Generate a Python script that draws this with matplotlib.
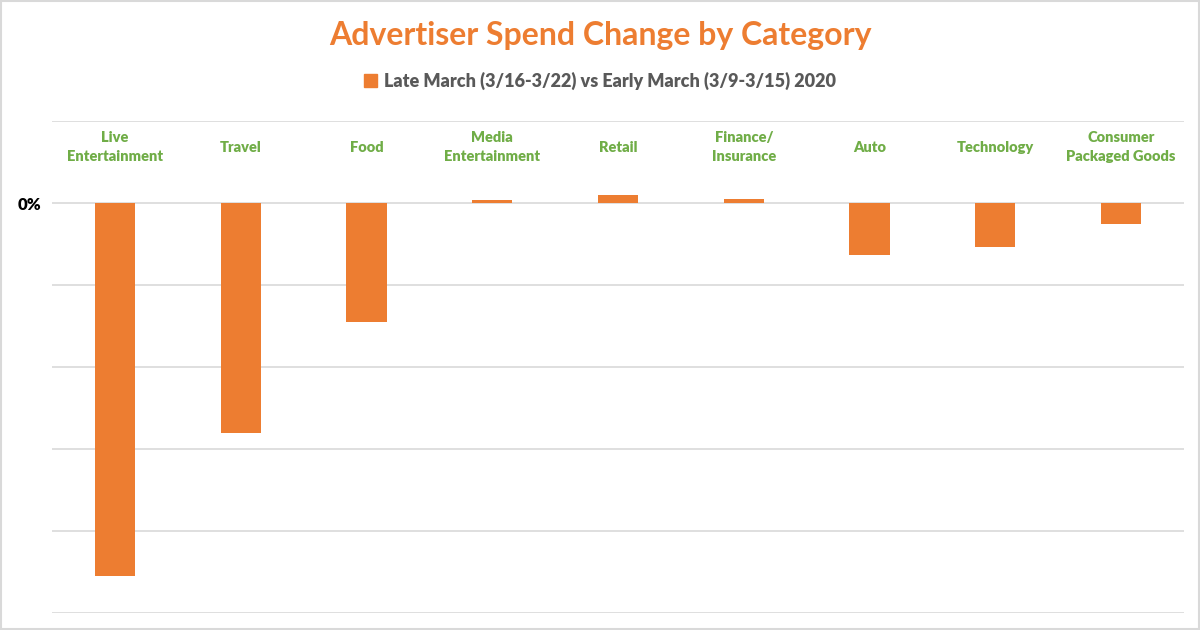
import matplotlib
matplotlib.use("Agg")
import matplotlib.pyplot as plt
from matplotlib.patches import Patch, Rectangle
from matplotlib.transforms import blended_transform_factory

# Data (percent change, gridline step = 10%)
CATEGORIES = ["Live\nEntertainment", "Travel", "Food", "Media\nEntertainment",
              "Retail", "Finance/\nInsurance", "Auto", "Technology",
              "Consumer\nPackaged Goods"]
CHANGE = [-45.5, -28.0, -14.5, 0.4, 1.0, 0.5, -6.4, -5.4, -2.5]
Y_TICKS = [-50, -40, -30, -20, -10, 0, 10]
SERIES_LABEL = "Late March (3/16-3/22) vs Early March (3/9-3/15) 2020"
TITLE = "Advertiser Spend Change by Category"

ORANGE = "#ED7D31"
GREEN = "#70AD47"
GREY_TXT = "#595959"
GRID = "#D9D9D9"
FONT = ["Lato", "DejaVu Sans"]

plt.rcParams["font.family"] = FONT

fig = plt.figure(figsize=(12, 6.3), dpi=100)
ax = fig.add_axes([52 / 1200, 1 - 613 / 630, (1184 - 52) / 1200, (613 - 121) / 630])

x = list(range(len(CATEGORIES)))
ax.bar(x, CHANGE, width=0.32, color=ORANGE, zorder=3)

ax.set_xlim(-0.5, len(CATEGORIES) - 0.5)
ax.set_ylim(min(Y_TICKS), max(Y_TICKS))
ax.set_yticks(Y_TICKS)
ax.set_yticklabels(["0%" if t == 0 else "" for t in Y_TICKS],
                   fontsize=12, fontweight="heavy", color="black")
ax.tick_params(axis="y", length=0, pad=8)
ax.set_xticks([])
ax.grid(axis="y", color=GRID, linewidth=1.2, zorder=0)
for s in ax.spines.values():
    s.set_visible(False)

# category labels sit inside the plot, just under the top gridline
trans = blended_transform_factory(ax.transData, ax.transAxes)
for xi, lab in zip(x, CATEGORIES):
    ax.text(xi, (613 - 147) / 492, lab, transform=trans, ha="center", va="center",
            fontsize=10.5, fontweight="heavy", color=GREEN, linespacing=1.5)

fig.text(0.5, 1 - 36 / 630, TITLE, ha="center", va="center",
         fontsize=23, fontweight="bold", color=ORANGE)

leg = fig.legend(handles=[Patch(color=ORANGE, label=SERIES_LABEL)],
                 loc="center", bbox_to_anchor=(0.5, 1 - 81 / 630), frameon=False,
                 handlelength=0.7, handleheight=0.7, handletextpad=0.4,
                 fontsize=13)
for t in leg.get_texts():
    t.set_fontweight("heavy")
    t.set_color(GREY_TXT)

# thin frame round the whole picture
fig.patches.append(Rectangle((0.001, 0.002), 0.998, 0.996, transform=fig.transFigure,
                             fill=False, edgecolor=GRID, linewidth=1.5))

fig.savefig("out.png", dpi=100)
